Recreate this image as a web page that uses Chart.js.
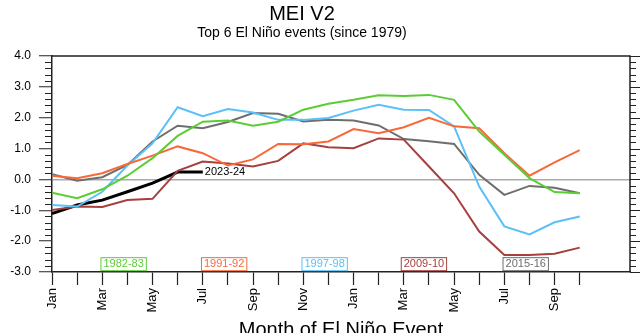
<!DOCTYPE html>
<html lang="en">
<head>
    <meta charset="UTF-8">
    <title>MEI V2 - Top 6 El Niño events</title>
    <script src="https://cdn.jsdelivr.net/npm/chart.js"></script>
    <style>
        html, body { margin: 0; padding: 0; background: #fff; overflow: hidden; }
        canvas { display: block; }
    </style>
</head>
<body>
    <canvas id="meiChart" width="640" height="333"></canvas>

    <script>
        // Month tick labels (Jan of the event year through Oct of the following year)
        const monthLabels = ['Jan', '', 'Mar', '', 'May', '', 'Jul', '', 'Sep', '', 'Nov', '',
                             'Jan', '', 'Mar', '', 'May', '', 'Jul', '', 'Sep', ''];

        const yTicks = [-3, -2, -1, 0, 1, 2, 3, 4];

        // MEI values, one per month
        const ev1982 = [-0.43, -0.61, -0.32, 0.12, 0.69, 1.41, 1.87, 1.91, 1.74, 1.87, 2.26, 2.45,
                        2.58, 2.73, 2.70, 2.74, 2.58, 1.55, 0.80, 0.04, -0.41, -0.45];
        const ev1991 = [0.12, 0.04, 0.20, 0.50, 0.77, 1.07, 0.85, 0.45, 0.65, 1.15, 1.14, 1.23,
                        1.63, 1.50, 1.69, 2.00, 1.72, 1.66, 0.85, 0.12, 0.55, 0.95];
        const ev1997 = [-0.83, -0.88, -0.40, 0.45, 1.17, 2.34, 2.05, 2.28, 2.17, 1.93, 1.93, 1.99,
                        2.23, 2.42, 2.26, 2.25, 1.72, -0.23, -1.52, -1.78, -1.39, -1.20];
        const ev2009 = [-0.99, -0.88, -0.89, -0.67, -0.63, 0.28, 0.58, 0.52, 0.42, 0.60, 1.17, 1.04,
                        1.01, 1.33, 1.29, 0.42, -0.45, -1.69, -2.45, -2.45, -2.41, -2.21];
        const ev2015 = [0.17, -0.04, 0.07, 0.47, 1.23, 1.74, 1.66, 1.86, 2.15, 2.13, 1.88, 1.93,
                        1.91, 1.75, 1.31, 1.24, 1.15, 0.15, -0.50, -0.21, -0.27, -0.45];
        const ev2023 = [-1.11, -0.83, -0.67, -0.40, -0.12, 0.24, 0.24];

        const FONT = '"Liberation Sans", Arial, Helvetica, sans-serif';

        function toPoints(arr) {
            return arr.map((v, i) => ({ x: i, y: v }));
        }

        function series(label, values, color, width) {
            return {
                label: label,
                data: toPoints(values),
                borderColor: color,
                backgroundColor: color,
                borderWidth: width,
                pointRadius: 0,
                tension: 0
            };
        }

        // Event boxes along the bottom of the plot
        const eventBoxes = [
            { text: '1982-83', x: 2.85, color: '#5ccc35' },
            { text: '1991-92', x: 6.85, color: '#f8693a' },
            { text: '1997-98', x: 10.85, color: '#5ac0f8' },
            { text: '2009-10', x: 14.8, color: '#a6403e' },
            { text: '2015-16', x: 18.85, color: '#6e6e6e' }
        ];

        const decorPlugin = {
            id: 'decor',
            afterDraw(chart) {
                const ctx = chart.ctx;
                const area = chart.chartArea;
                const xs = chart.scales.x;
                const ys = chart.scales.y;
                ctx.save();

                // top and right frame
                ctx.strokeStyle = '#222';
                ctx.lineWidth = 1.5;
                ctx.beginPath();
                ctx.moveTo(area.left, area.top);
                ctx.lineTo(area.right, area.top);
                ctx.lineTo(area.right, area.bottom);
                ctx.stroke();

                // minor / major ticks on the y axes
                ctx.lineWidth = 1;
                for (let k = -15; k <= 20; k++) {
                    const py = Math.round(ys.getPixelForValue(k / 5)) + 0.5;
                    const major = k % 5 === 0;
                    ctx.beginPath();
                    if (!major) {
                        ctx.moveTo(area.left - 7, py);
                        ctx.lineTo(area.left, py);
                    }
                    ctx.moveTo(area.right, py);
                    ctx.lineTo(area.right + (major ? 11 : 6), py);
                    ctx.stroke();
                }

                // label at the end of the 2023-24 line
                ctx.font = '11px ' + FONT;
                ctx.fillStyle = '#000';
                ctx.textAlign = 'left';
                ctx.textBaseline = 'middle';
                const last = ev2023.length - 1;
                ctx.fillText('2023-24', xs.getPixelForValue(last) + 2, ys.getPixelForValue(ev2023[last]));

                // event boxes
                ctx.textAlign = 'center';
                const by = ys.getPixelForValue(-2.73);
                eventBoxes.forEach(b => {
                    const bx = xs.getPixelForValue(b.x);
                    const w = ctx.measureText(b.text).width + 6;
                    ctx.fillStyle = '#fff';
                    ctx.fillRect(bx - w / 2, by - 6.5, w, 13);
                    ctx.strokeStyle = b.color;
                    ctx.strokeRect(bx - w / 2 + 0.5, by - 6.5 + 0.5, w - 1, 13);
                    ctx.fillStyle = b.color;
                    ctx.fillText(b.text, bx, by + 0.5);
                });

                // titles
                ctx.fillStyle = '#000';
                ctx.textBaseline = 'alphabetic';
                ctx.font = '20px ' + FONT;
                ctx.fillText('MEI V2', 302, 20);
                ctx.font = '14px ' + FONT;
                ctx.fillText('Top 6 El Ni\u00f1o events (since 1979)', 302, 37);
                ctx.font = '20px ' + FONT;
                ctx.fillText('Month of El Ni\u00f1o Event', (area.left + area.right) / 2, 336);

                ctx.restore();
            }
        };

        const config = {
            type: 'line',
            data: {
                datasets: [
                    series('1982-83', ev1982, '#5ccc35', 2),
                    series('1991-92', ev1991, '#f8693a', 2),
                    series('1997-98', ev1997, '#5ac0f8', 2),
                    series('2009-10', ev2009, '#a6403e', 2),
                    series('2015-16', ev2015, '#6e6e6e', 2),
                    series('2023-24', ev2023, '#000000', 3)
                ]
            },
            options: {
                responsive: false,
                animation: false,
                layout: { padding: { top: 56, right: 10, left: 0, bottom: 0 } },
                plugins: {
                    legend: { display: false },
                    title: { display: false },
                    tooltip: { enabled: false }
                },
                scales: {
                    x: {
                        type: 'linear',
                        min: 0,
                        max: 23,
                        afterFit: s => { s.height = 61; },
                        afterBuildTicks: s => {
                            s.ticks = monthLabels.map((m, i) => ({ value: i }));
                        },
                        ticks: {
                            autoSkip: false,
                            minRotation: 90,
                            maxRotation: 90,
                            padding: 3,
                            color: '#000',
                            font: { family: FONT, size: 13 },
                            callback: (v) => monthLabels[v] || ''
                        },
                        grid: {
                            drawOnChartArea: false,
                            tickLength: 13,
                            tickColor: '#222',
                            tickWidth: 1.2
                        },
                        border: { color: '#222', width: 1.5 }
                    },
                    y: {
                        min: -3,
                        max: 4,
                        afterFit: s => { s.width = 52; },
                        afterBuildTicks: s => {
                            s.ticks = yTicks.map(v => ({ value: v }));
                        },
                        ticks: {
                            padding: 8,
                            color: '#000',
                            font: { family: FONT, size: 12 },
                            callback: v => v.toFixed(1)
                        },
                        grid: {
                            drawOnChartArea: true,
                            color: c => (c.tick && c.tick.value === 0) ? '#aaaaaa' : 'rgba(0,0,0,0)',
                            lineWidth: 1.5,
                            tickLength: 13,
                            tickColor: '#222',
                            tickWidth: 1
                        },
                        border: { color: '#222', width: 1.5 }
                    }
                }
            },
            plugins: [decorPlugin]
        };

        new Chart(document.getElementById('meiChart'), config);
    </script>
</body>
</html>
